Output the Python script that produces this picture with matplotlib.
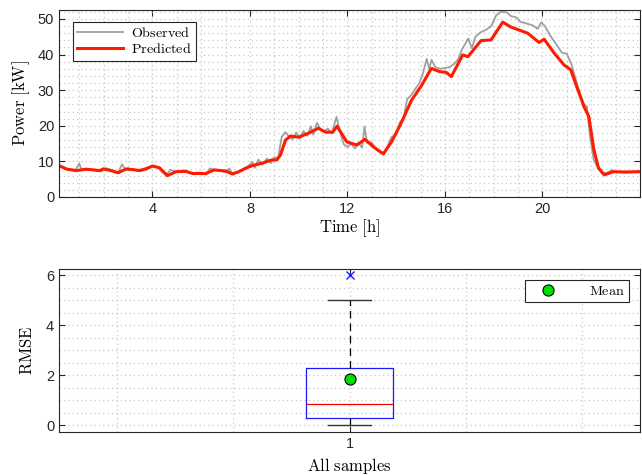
import numpy as np
import matplotlib.pyplot as plt
from matplotlib.ticker import MultipleLocator

plt.rcParams['mathtext.fontset'] = 'cm'
plt.rcParams['font.family'] = ['Liberation Sans', 'DejaVu Sans']

# observed power [kW] vs time [h]
obs_t = [0.17, 0.5, 0.85, 1.0, 1.1, 1.5, 1.9, 2.1, 2.4, 2.6, 2.75, 2.9, 3.3, 3.6, 3.9, 4.2,
         4.4, 4.55, 4.75, 5.0, 5.3, 5.6, 5.9, 6.2, 6.35, 6.7, 7.0, 7.15, 7.3, 7.6, 7.9, 8.1,
         8.2, 8.35, 8.5, 8.7, 8.85, 9.0, 9.15, 9.3, 9.45, 9.6, 9.75, 9.9, 10.05, 10.2, 10.35,
         10.5, 10.6, 10.75, 10.9, 11.05, 11.2, 11.35, 11.55, 11.7, 11.85, 12.0, 12.15, 12.3,
         12.45, 12.6, 12.7, 12.8, 13.0, 13.2, 13.5, 13.65, 13.8, 14.0, 14.15, 14.3, 14.45,
         14.6, 14.75, 14.95, 15.1, 15.25, 15.35, 15.45, 15.6, 15.8, 16.0, 16.2, 16.4, 16.55,
         16.7, 16.85, 16.95, 17.1, 17.25, 17.45, 17.7, 17.9, 18.1, 18.3, 18.55, 18.7, 18.9,
         19.1, 19.3, 19.6, 19.8, 19.95, 20.1, 20.3, 20.55, 20.8, 21.0, 21.2, 21.45, 21.7,
         21.82, 21.95, 22.1, 22.25, 22.45, 22.7, 22.85, 23.0, 23.5, 24.0]
obs_v = [8.6, 7.8, 7.6, 9.4, 7.5, 7.6, 7.2, 8.1, 7.4, 6.9, 9.2, 7.6, 7.5, 7.8, 8.6, 8.4,
         7.0, 6.2, 7.6, 7.0, 7.5, 6.5, 6.9, 6.3, 8.0, 7.4, 7.0, 8.0, 6.2, 7.4, 8.5, 9.8,
         8.2, 10.5, 9.0, 10.8, 9.5, 11.2, 10.8, 16.8, 18.2, 17.0, 16.2, 18.1, 16.5, 18.5, 17.2,
         19.8, 17.5, 20.8, 19.0, 18.5, 19.2, 17.8, 22.5, 18.0, 14.8, 14.0, 15.0, 13.6,
         15.2, 13.8, 19.8, 15.2, 15.3, 13.2, 12.0, 14.2, 16.8, 17.5, 21.0, 22.0, 27.5,
         28.5, 30.0, 32.0, 34.8, 38.8, 36.0, 38.5, 36.5, 36.0, 36.2, 36.5, 37.5, 38.8,
         41.5, 43.2, 44.5, 41.8, 45.0, 46.2, 47.0, 48.0, 51.0, 52.0, 51.8, 50.8, 50.5,
         49.2, 48.8, 48.2, 47.2, 49.0, 48.0, 45.5, 43.0, 40.5, 40.2, 37.0, 31.0, 26.0,
         25.5, 17.0, 10.5, 8.5, 6.5, 7.0, 7.6, 7.0, 7.1, 7.2]

# predicted power [kW] vs time [h]
pred_t = [0.17, 0.5, 0.88, 1.26, 1.6, 1.84, 1.98, 2.3, 2.59, 2.93, 3.2, 3.47, 3.75, 4.0,
          4.29, 4.61, 4.97, 5.37, 5.65, 6.19, 6.53, 7.0, 7.27, 7.55, 7.8, 8.09, 8.5, 8.9,
          9.1, 9.25, 9.46, 9.66, 10.0, 10.4, 10.8, 11.1, 11.4, 11.57, 11.97, 12.38, 12.72,
          13.06, 13.47, 13.81, 14.2, 14.63, 15.03, 15.44, 15.78, 16.05, 16.26, 16.73, 16.94,
          17.48, 17.89, 18.37, 18.71, 19.39, 19.86, 20.07, 20.48, 20.88, 21.16, 21.43, 21.7,
          21.9, 22.11, 22.3, 22.54, 22.9, 23.4, 24.0]
pred_v = [8.8, 7.8, 7.4, 7.8, 7.6, 7.4, 7.9, 7.4, 6.8, 7.9, 7.7, 7.4, 7.9, 8.7,
          8.2, 6.0, 7.1, 7.2, 6.6, 6.6, 7.6, 7.3, 6.5, 7.1, 8.0, 8.8, 9.5, 10.4,
          10.4, 11.8, 16.0, 17.1, 16.8, 17.9, 19.3, 18.2, 18.2, 19.9, 15.5, 14.6, 16.2,
          14.1, 12.1, 15.5, 20.7, 27.2, 31.2, 36.1, 35.2, 35.0, 33.8, 39.9, 39.4,
          43.9, 44.1, 49.1, 47.7, 46.0, 43.4, 44.3, 40.4, 37.1, 35.7, 30.5, 25.4,
          22.6, 13.2, 8.1, 6.2, 7.1, 7.0, 7.1]

# RMSE box statistics
rmse_q1 = 0.3
rmse_med = 0.83
rmse_q3 = 2.28
rmse_lo = 0.0
rmse_hi = 5.0
rmse_outliers = [6.0]
rmse_mean = 1.83

spine_c = '#262626'
grid_c = '#c8c8c8'


def style(ax):
    for s in ax.spines.values():
        s.set_color(spine_c)
        s.set_linewidth(0.8)
    ax.tick_params(which='major', direction='in', length=4, top=True, right=True,
                   colors=spine_c, labelsize=10.5, width=0.8)
    ax.tick_params(which='minor', length=0, top=True, right=True)
    ax.grid(which='major', linestyle=(0, (1, 2.5)), color=grid_c, linewidth=0.9)
    ax.grid(which='minor', linestyle=(0, (1, 2.5)), color=grid_c, linewidth=0.9)


fig = plt.figure(figsize=(6.42, 4.75), dpi=100)

ax1 = fig.add_axes([59 / 642, 1 - 197 / 475, 581 / 642, 187 / 475])
ax1.plot(obs_t, obs_v, color='#a0a0a0', lw=1.3, label=r'$\mathrm{Observed}$')
ax1.plot(pred_t, pred_v, color='#ff1a00', lw=2.2, label=r'$\mathrm{Predicted}$')
ax1.set_xlim(1 / 6, 24)
ax1.set_ylim(0, 52.5)
ax1.set_xticks([4, 8, 12, 16, 20])
ax1.set_yticks([0, 10, 20, 30, 40, 50])
ax1.xaxis.set_minor_locator(MultipleLocator(1))
ax1.yaxis.set_minor_locator(MultipleLocator(2))
style(ax1)
ax1.set_xlabel(r'$\mathrm{Time\ [h]}$', fontsize=12, labelpad=1)
ax1.set_ylabel(r'$\mathrm{Power\ [kW]}$', fontsize=12, labelpad=4)
leg = ax1.legend(loc='upper left', fontsize=10.2, fancybox=False, framealpha=1,
                 edgecolor=spine_c, handlelength=3.2, borderpad=0.3,
                 labelspacing=0.15, handletextpad=0.6, borderaxespad=0,
                 bbox_to_anchor=(0.024, 0.936))
leg.get_frame().set_linewidth(0.8)

ax2 = fig.add_axes([59 / 642, 1 - 432 / 475, 581 / 642, 163 / 475])
stats = [dict(q1=rmse_q1, med=rmse_med, q3=rmse_q3, whislo=rmse_lo, whishi=rmse_hi,
              fliers=rmse_outliers, label='1')]
ax2.bxp(stats, positions=[1], widths=0.15, capwidths=0.075, showfliers=True,
        boxprops=dict(color='#1a1aff', linewidth=0.9),
        medianprops=dict(color='#ff0000', linewidth=0.9),
        whiskerprops=dict(color='black', linestyle=(0, (6, 4)), linewidth=0.9),
        capprops=dict(color='#333333', linewidth=1.0),
        flierprops=dict(marker='x', markeredgecolor='#1a1aff', markersize=6,
                        linestyle='none'))
ax2.plot([1], [rmse_mean], 'o', color='#00e000', markeredgecolor='black',
         markersize=8, markeredgewidth=0.8, linestyle='none',
         label=r'$\mathrm{Mean}$')
ax2.set_xlim(0.5, 1.5)
ax2.set_ylim(-0.28, 6.25)
ax2.set_xticks([1])
ax2.set_xticklabels(['1'])
ax2.set_yticks([0, 2, 4, 6])
ax2.xaxis.set_minor_locator(MultipleLocator(0.2))
ax2.yaxis.set_minor_locator(MultipleLocator(0.5))
style(ax2)
ax2.set_xlabel(r'$\mathrm{All\ samples}$', fontsize=12, labelpad=4)
ax2.set_ylabel(r'$\mathrm{RMSE}$', fontsize=12, labelpad=8)
leg2 = ax2.legend(loc='upper right', fontsize=10.2, fancybox=False, framealpha=1,
                  edgecolor=spine_c, handlelength=2.6, borderpad=0.3,
                  handletextpad=1.6, borderaxespad=0,
                  bbox_to_anchor=(0.981, 0.933))
leg2.get_frame().set_linewidth(0.8)

fig.savefig('out.png', dpi=100)
